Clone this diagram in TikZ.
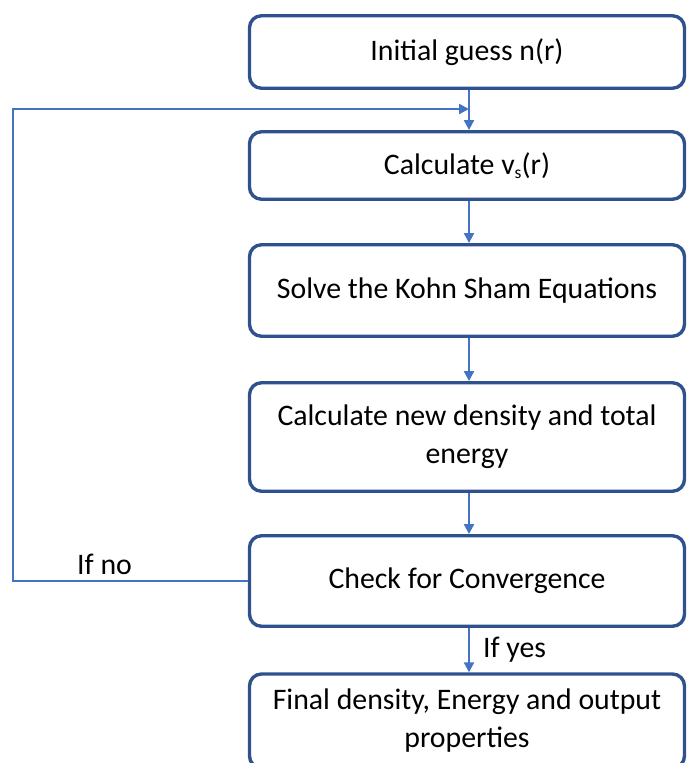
\documentclass[tikz,border=0pt]{standalone}
\usepackage{fontspec}
\setmainfont{Carlito}
\usetikzlibrary{arrows.meta}
\definecolor{boxblue}{HTML}{2F528F}
\definecolor{arrowblue}{HTML}{4472C4}
\begin{document}
\begin{tikzpicture}[x=1pt,y=-1pt,
  stepbox/.style={draw=boxblue, line width=3.4pt, rounded corners=12pt, fill=white,
    minimum width=435pt, align=center, inner sep=0pt,
    font=\fontsize{29.8}{38}\selectfont},
  flow/.style={draw=arrowblue, line width=2.2pt, -{Triangle[length=10pt,width=10pt]}},
  lbl/.style={font=\fontsize{29.8}{38}\selectfont, inner sep=0pt}]
\useasboundingbox (0,0) rectangle (687,763);
\clip (0,0) rectangle (687,763);
\node[stepbox, minimum height=72.5pt] (b1) at (467,52) {Initial guess n(r)};
\node[stepbox, minimum height=67.5pt] (b2) at (467,165.5) {Calculate v\raisebox{-0.3ex}{\fontsize{17.5}{17.5}\selectfont s}(r)};
\node[stepbox, minimum height=91.5pt] (b3) at (467,290.5) {Solve the Kohn Sham Equations};
\node[stepbox, minimum height=108.5pt] (b4) at (467,437) {Calculate new density and total\\energy};
\node[stepbox, minimum height=90.5pt] (b5) at (467,581) {Check for Convergence};
\node[stepbox, minimum height=94pt] (b6) at (467,721) {Final density, Energy and output\\properties};
\coordinate (j) at (469,109);
\coordinate (lc) at (13,581);
\draw[flow] (b1.south -| j) -- (b2.north -| j);
\draw[flow] (b2.south -| j) -- (b3.north -| j);
\draw[flow] (b3.south -| j) -- (b4.north -| j);
\draw[flow] (b4.south -| j) -- (b5.north -| j);
\draw[flow] (b5.south -| j) -- node[lbl, anchor=west, xshift=13pt] (yes) {If yes} (b6.north -| j);
\draw[flow] (b5.west) -- node[lbl, anchor=south, pos=0.61, yshift=5pt] (no) {If no} (lc) |- (j);
\end{tikzpicture}
\end{document}
